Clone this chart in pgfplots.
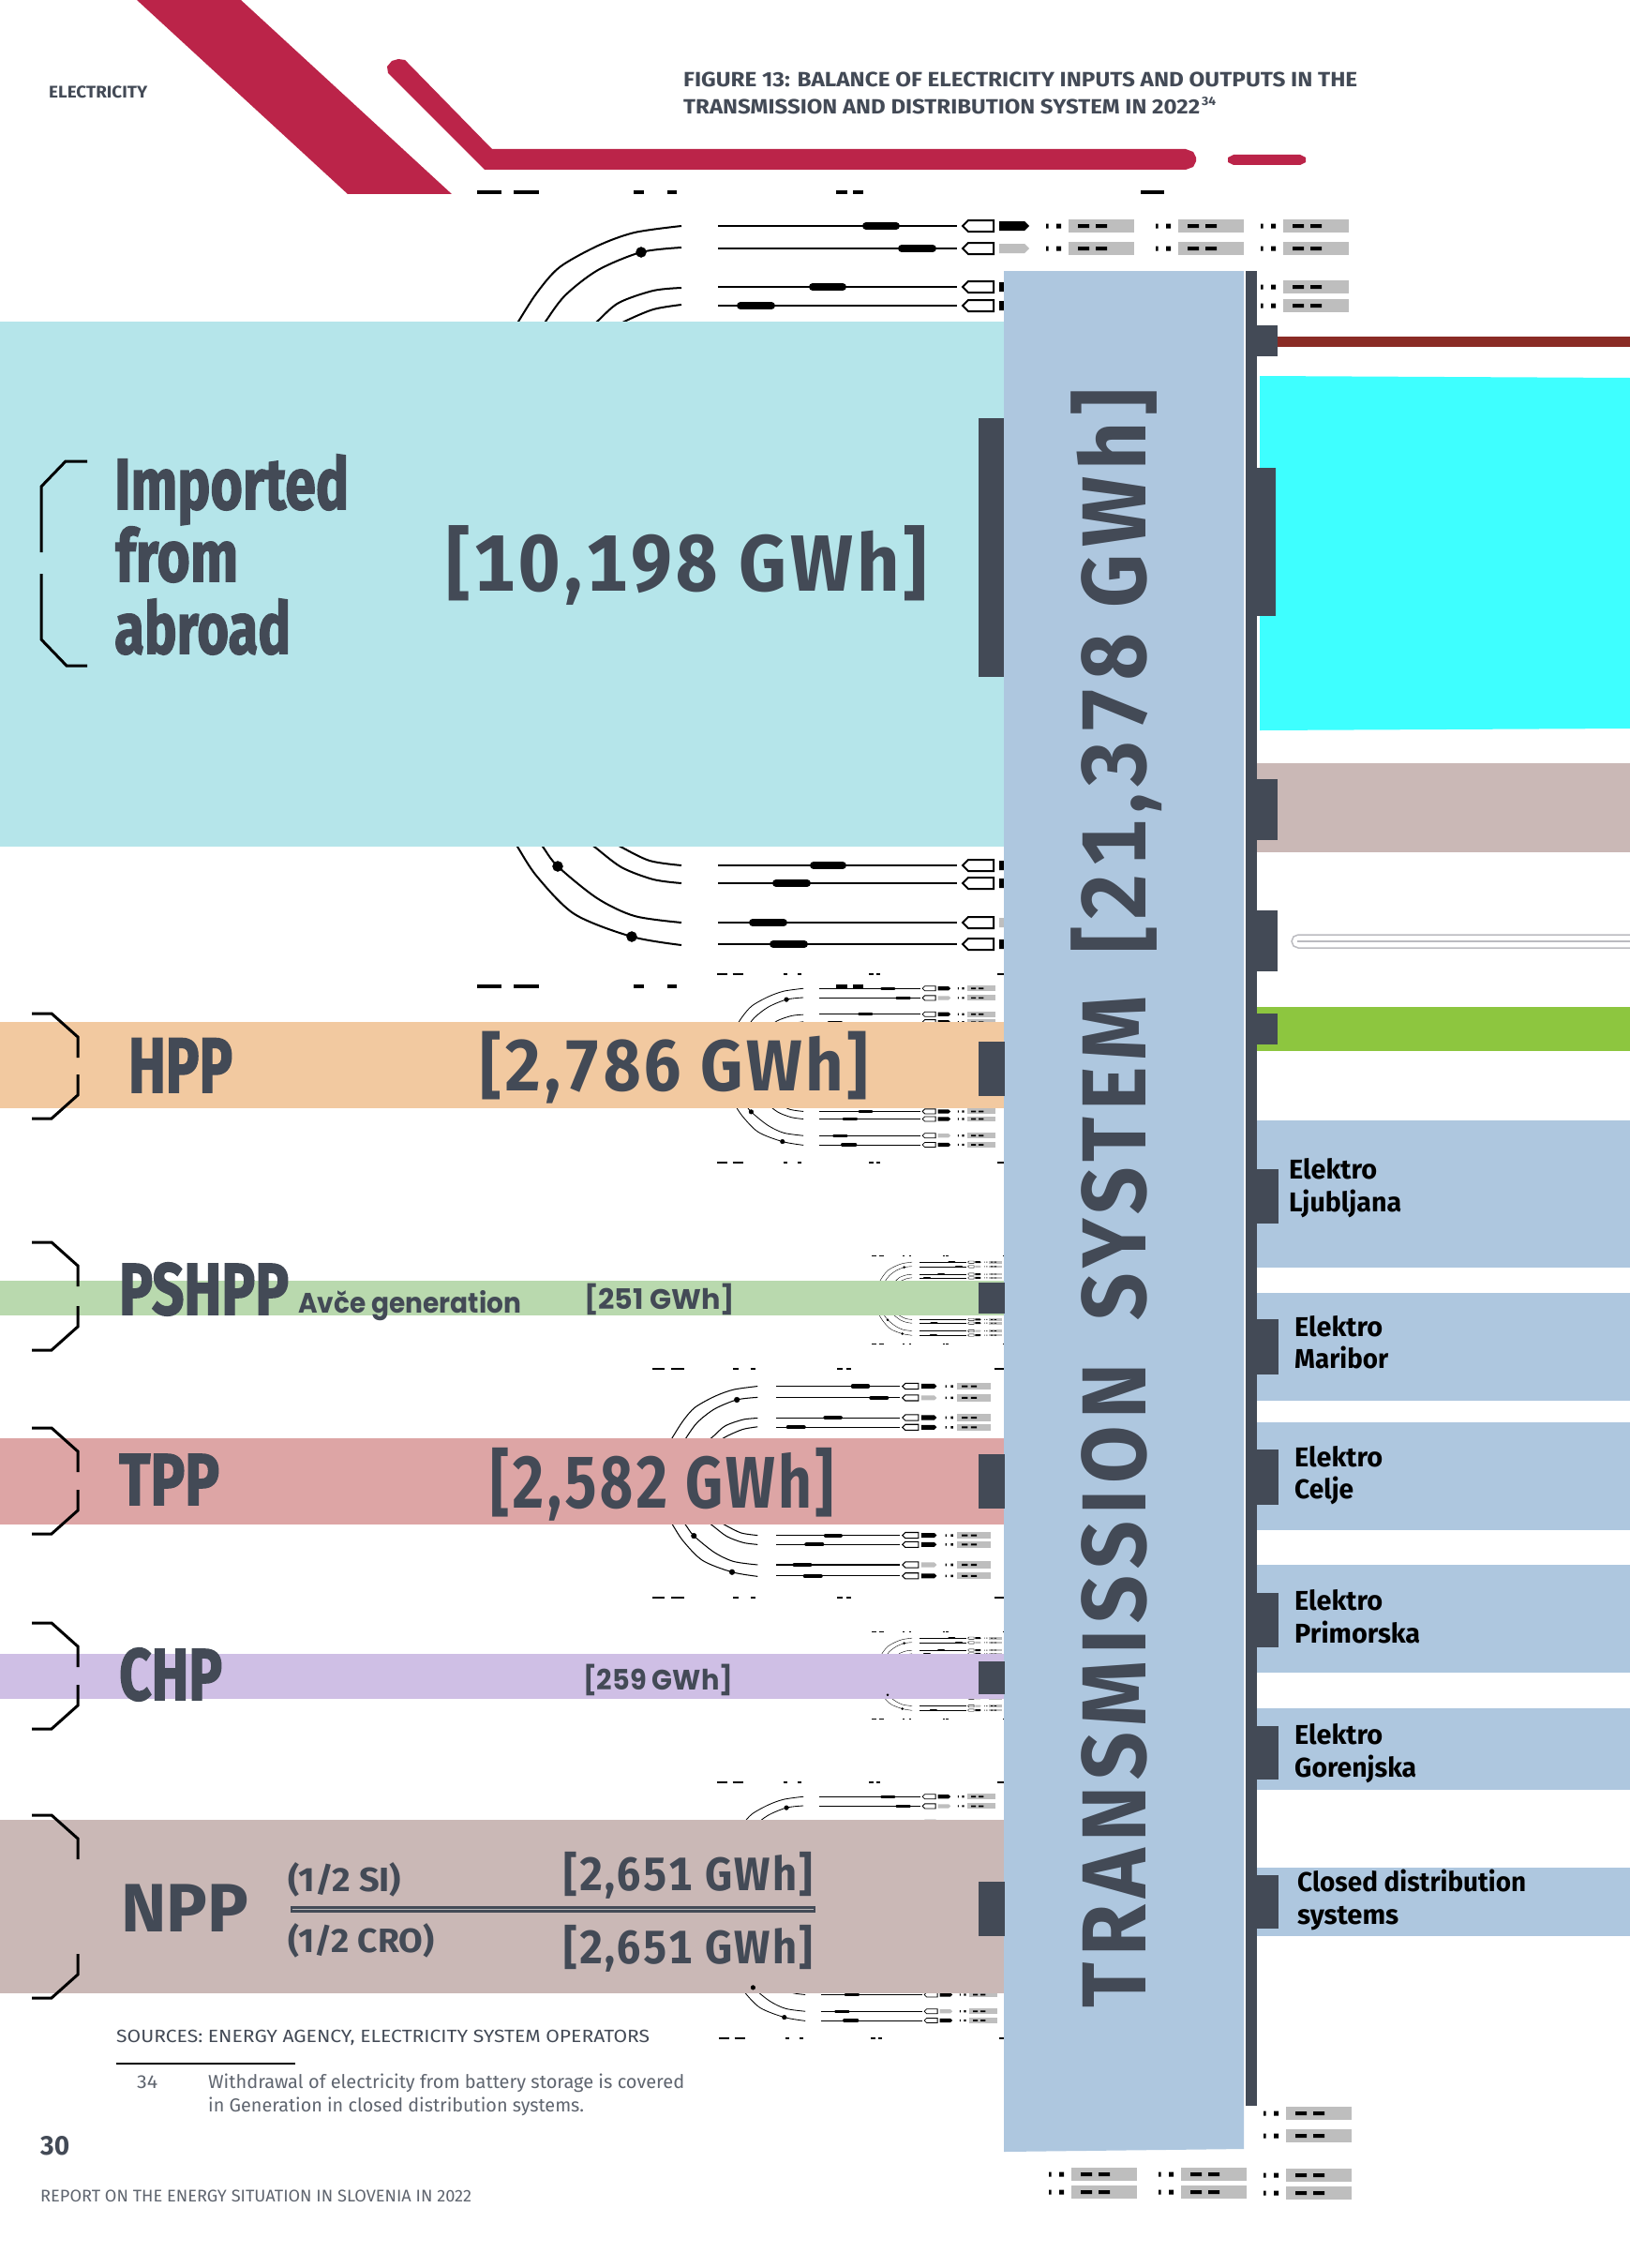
\documentclass[border=0pt]{standalone}
\usepackage{fontspec}
\usepackage{graphicx}
\usepackage{pgfplots}
\usepackage{pgfplotstable}
\pgfplotsset{compat=1.18}
\setmainfont{Fira Sans}
\newfontfamily\pop{Poppins}
\newfontfamily\heavy{Fira Sans}[BoldFeatures={FakeBold=2}]
\newcommand\val{\bfseries\addfontfeature{LetterSpace=5,Numbers=Monospaced}}
\definecolor{dark}{HTML}{434A56}
\definecolor{crimson}{HTML}{BB2449}
\definecolor{boxgrey}{HTML}{BEBEBE}
\definecolor{tsblue}{HTML}{AEC7DF}
\definecolor{npp}{HTML}{CAB8B6}
\definecolor{imp}{HTML}{B5E5EA}
\definecolor{hpp}{HTML}{F2C9A0}
\definecolor{psh}{HTML}{B9D9AE}
\definecolor{tpp}{HTML}{DDA5A5}
\definecolor{chp}{HTML}{CFBFE5}
\definecolor{brownline}{HTML}{8A2B25}
\definecolor{cyanband}{HTML}{3EFFFF}
\definecolor{gridline}{HTML}{BBBBC0}
\definecolor{greenband}{HTML}{8DC63F}

% motif pieces, in the coordinates of the large copy
\pgfplotstableread[row sep=\\]{x y\\ 509 0\\ 535 0\\ nan nan\\ 548 0\\ 575 0\\ nan nan\\ 676 0\\ 687 0\\ nan nan\\ 712 0\\ 722 0\\ nan nan\\ 892 0\\ 904 0\\ nan nan\\ 910 0\\ 921 0\\ nan nan\\ 1217 0\\ 1242 0\\}\tDash
\pgfplotstableread[row sep=\\]{x y\\ 543 360\\ 553 343\\ 573 312\\ 597 285\\ 638 262\\ 677 248\\ 727 241\\ nan nan\\ 572 360\\ 582 343\\ 603 315\\ 638 288\\ 684 269\\ 727 264\\ nan nan\\ 620 358\\ 637 343\\ 660 323\\ 697 310\\ 727 307\\ nan nan\\ 645 355\\ 666 343\\ 697 330\\ 727 325\\}\tArcT
\pgfplotstableread[row sep=\\]{x y\\ 543 888\\ 552 903\\ 573 935\\ 613 975\\ 674 999\\ 727 1008\\ nan nan\\ 568 888\\ 579 903\\ 595 924\\ 637 958\\ 677 977\\ 727 984\\ nan nan\\ 620 893\\ 634 903\\ 663 925\\ 697 938\\ 727 942\\ nan nan\\ 645 893\\ 662 903\\ 693 918\\ 727 923\\}\tArcB
\pgfplotstableread[row sep=\\]{x y\\ 684 269\\}\tDotT
\pgfplotstableread[row sep=\\]{x y\\ 595 924\\ 674 999\\}\tDotB
\pgfplotstableread[row sep=\\]{x y\\ 924 241\\ 956 241\\ nan nan\\ 962 265\\ 995 265\\ nan nan\\ 867 306\\ 899 306\\ nan nan\\ 790 326\\ 823 326\\}\tCapT
\pgfplotstableread[row sep=\\]{x y\\ 868 923\\ 899 923\\ nan nan\\ 828 942\\ 861 942\\ nan nan\\ 803 984\\ 836 984\\ nan nan\\ 825 1007\\ 858 1007\\}\tCapB
\pgfplotstableread[row sep=\\]{x y\\ 766 0\\ 1021 0\\}\tLine
\pgfplotstableread[row sep=\\]{x y\\ 1027 0\\ 1033 -6\\ 1060 -6\\ 1060 6\\ 1033 6\\}\tPent
\pgfplotstableread[row sep=\\]{x y\\ 1066 -5\\ 1093 -5\\ 1098 0\\ 1093 5\\ 1066 5\\}\tHex
\pgfplotstableread[row sep=\\]{x y\\ 1140 -7\\ 1210 -7\\ 1210 7\\ 1140 7\\}\tBox
\pgfplotstableread[row sep=\\]{x y\\ 1116 -2.5\\ 1118.5 -2.5\\ 1118.5 2.5\\ 1116 2.5\\ nan nan\\ 1127 -2.5\\ 1132 -2.5\\ 1132 2.5\\ 1127 2.5\\ nan nan\\ 1150 -2\\ 1162 -2\\ 1162 2\\ 1150 2\\ nan nan\\ 1169 -2\\ 1181 -2\\ 1181 2\\ 1169 2\\}\tTick
\pgfplotstableread[row sep=\\]{x y\\ 34 0\\ 55 0\\ 83 25\\ 83 47\\}\tBrT
\pgfplotstableread[row sep=\\]{x y\\ 83 -47\\ 83 -25\\ 55 0\\ 34 0\\}\tBrB

\newcommand\rect[5]{\addplot[fill=#5,draw=none] coordinates {(#1,#2)(#3,#2)(#3,#4)(#1,#4)} --cycle;}
\newcommand\poly[2]{\addplot[fill=#1,draw=none] coordinates {#2} --cycle;}
% x y width size colour text: baseline left corner, exact width
\newcommand\tx[6]{\node[anchor=base west,inner sep=0pt,text=#5] at (axis cs:#1,#2) {\resizebox{#3pt}{\height}{\fontsize{#4pt}{#4pt}\selectfont #6}};}
\newcommand\tsword[3]{\node[rotate=90,anchor=base west,inner sep=0pt,text=dark] at (axis cs:1222,#1) {\resizebox{#2pt}{\height}{\fontsize{97pt}{97pt}\selectfont\bfseries\addfontfeature{LetterSpace=8,Numbers=Monospaced}#3}};}
\newcommand\bcol[4]{%
  \addplot[fill=boxgrey,draw=none] table[x expr=#1+#3*\thisrow{x},y expr=#2+#3*(#4+\thisrow{y})]{\tBox} --cycle;
  \addplot[fill=black,draw=none] table[x expr=#1+#3*\thisrow{x},y expr=#2+#3*(#4+\thisrow{y})]{\tTick};}
\newcommand\hrow[5]{%
  \addplot[black,line width=#3*2pt] table[x expr=#1+#3*\thisrow{x},y expr=#2+#3*(#4+\thisrow{y})]{\tLine};
  \addplot[fill=white,draw=black,line width=#3*2pt] table[x expr=#1+#3*\thisrow{x},y expr=#2+#3*(#4+\thisrow{y})]{\tPent} --cycle;
  \addplot[fill=#5,draw=none] table[x expr=#1+#3*\thisrow{x},y expr=#2+#3*(#4+\thisrow{y})]{\tHex} --cycle;
  \bcol{#1}{#2}{#3}{#4}}
\newcommand\parts[6]{% ox oy s arcs dots caps
  \addplot[black,line width=#3*2pt,smooth] table[x expr=#1+#3*\thisrow{x},y expr=#2+#3*\thisrow{y}]{#4};
  \addplot[only marks,mark=*,mark size=#3*5.5pt,black] table[x expr=#1+#3*\thisrow{x},y expr=#2+#3*\thisrow{y}]{#5};
  \addplot[black,line width=#3*8pt,line cap=round] table[x expr=#1+#3*\thisrow{x},y expr=#2+#3*\thisrow{y}]{#6};}
\newcommand\motifT[3]{% x of the first dash, y of the dash row, scale
  \addplot[black,line width=#3*4pt] table[x expr=#1+#3*(\thisrow{x}-509),y expr=#2+\thisrow{y}]{\tDash};
  \hrow{(#1-#3*509)}{(#2-#3*205)}{#3}{241}{black}
  \hrow{(#1-#3*509)}{(#2-#3*205)}{#3}{265}{boxgrey}
  \hrow{(#1-#3*509)}{(#2-#3*205)}{#3}{306}{black}
  \hrow{(#1-#3*509)}{(#2-#3*205)}{#3}{326}{black}
  \parts{(#1-#3*509)}{(#2-#3*205)}{#3}{\tArcT}{\tDotT}{\tCapT}}
\newcommand\motifB[3]{%
  \addplot[black,line width=#3*4pt] table[x expr=#1+#3*(\thisrow{x}-509),y expr=#2+\thisrow{y}]{\tDash};
  \hrow{(#1-#3*509)}{(#2-#3*1052)}{#3}{923}{black}
  \hrow{(#1-#3*509)}{(#2-#3*1052)}{#3}{942}{black}
  \hrow{(#1-#3*509)}{(#2-#3*1052)}{#3}{984}{boxgrey}
  \hrow{(#1-#3*509)}{(#2-#3*1052)}{#3}{1007}{black}
  \parts{(#1-#3*509)}{(#2-#3*1052)}{#3}{\tArcB}{\tDotB}{\tCapB}}
\newcommand\brk[2]{\addplot[black,line width=3pt] table[x=x,y expr=#1+\thisrow{y}]{\tBrT};
  \addplot[black,line width=3pt] table[x=x,y expr=#2+\thisrow{y}]{\tBrB};}

\begin{document}
\begin{tikzpicture}
\begin{axis}[x=1pt,y=1pt,y dir=reverse,xmin=0,xmax=1739,ymin=0,ymax=2419,
  axis lines=none,unbounded coords=jump,clip=true]
\rect{0}{0}{1739}{2419}{white}

% repeated switchyard motif, behind the bands
\motifT{509}{205}{1}
\motifB{509}{1052}{1}
\bcol{117}{0}{1}{241}\bcol{117}{0}{1}{265}
\bcol{229}{0}{1}{241}\bcol{229}{0}{1}{265}\bcol{229}{0}{1}{306}\bcol{229}{0}{1}{326}
\motifT{765}{1039}{0.423}
\motifB{765}{1240}{0.423}
\motifT{930}{1339}{0.198}
\motifB{930}{1433}{0.198}
\motifT{696}{1460}{0.515}
\motifB{696}{1704}{0.515}
\motifT{930}{1740}{0.198}
\motifB{930}{1833}{0.198}
\motifT{765}{1901}{0.423}
\motifB{767}{2174}{0.423}
\bcol{232}{2013}{1}{241}\bcol{232}{2013}{1}{265}
\bcol{3}{0}{1}{2319}\bcol{3}{0}{1}{2338}
\bcol{120}{0}{1}{2319}\bcol{120}{0}{1}{2338}
\bcol{232}{0}{1}{2320}\bcol{232}{0}{1}{2339}

% header shapes
\poly{crimson}{(146,0)(257,0)(482,207)(371,207)}
\poly{crimson}{(418,65)(425,63)(432,64)(435,67)(525,159)(1265,159)(1273,162)(1276,168)(1276,172)(1273,178)(1265,181)(517,181)(414,78)(413,71)}
\poly{crimson}{(1316,165)(1387,165)(1393,168)(1393,173)(1387,176)(1316,176)(1310,173)(1310,168)}

% input bands
\rect{0}{343}{1071}{903}{imp}
\rect{0}{1090}{1071}{1182}{hpp}
\rect{0}{1366}{1071}{1403}{psh}
\rect{0}{1534}{1071}{1626}{tpp}
\rect{0}{1764}{1071}{1812}{chp}
\rect{0}{1941}{1071}{2126}{npp}

% central bar and spine
\poly{tsblue}{(1071,289)(1327,289)(1327,2292)(1071,2295)}
\rect{1329}{289}{1341}{2246}{dark}
\rect{1044}{446}{1071}{722}{dark}
\rect{1044}{1111}{1072}{1169}{dark}
\rect{1044}{1368}{1072}{1401}{dark}
\rect{1044}{1551}{1072}{1609}{dark}
\rect{1044}{1772}{1072}{1807}{dark}
\rect{1044}{2007}{1072}{2065}{dark}

% output bands
\rect{1363}{359}{1739}{370}{brownline}
\poly{cyanband}{(1344,401)(1739,403)(1739,777)(1344,779)}
\rect{1341}{814}{1739}{909}{npp}
\addplot[draw=gridline,line width=1.5pt] coordinates {(1739,997)(1385,997)(1380,999)(1378,1004)(1380,1009)(1385,1011)(1739,1011)};
\addplot[draw=gridline,line width=2.5pt] coordinates {(1384,1004)(1739,1004)};
\rect{1341}{1074}{1739}{1121}{greenband}
\rect{1341}{1195}{1739}{1352}{tsblue}
\rect{1341}{1379}{1739}{1494}{tsblue}
\rect{1341}{1517}{1739}{1632}{tsblue}
\rect{1341}{1669}{1739}{1784}{tsblue}
\rect{1341}{1822}{1739}{1909}{tsblue}
\rect{1341}{1992}{1739}{2065}{tsblue}

\rect{1341}{347}{1363}{380}{dark}
\rect{1341}{499}{1361}{657}{dark}
\rect{1341}{831}{1363}{896}{dark}
\rect{1341}{971}{1363}{1036}{dark}
\rect{1341}{1081}{1363}{1114}{dark}
\rect{1341}{1247}{1364}{1305}{dark}
\rect{1341}{1407}{1364}{1466}{dark}
\rect{1341}{1546}{1364}{1605}{dark}
\rect{1341}{1699}{1364}{1757}{dark}
\rect{1341}{1841}{1364}{1898}{dark}
\rect{1341}{2000}{1364}{2057}{dark}

% brackets
\addplot[black,line width=3pt] coordinates {(93,492)(70,492)(44,519)(44,589)};
\addplot[black,line width=3pt] coordinates {(44,612)(44,682)(71,710)(93,710)};
\brk{1081}{1193}
\brk{1325}{1440}
\brk{1523}{1636}
\brk{1731}{1844}
\brk{1936}{2131}

% NPP divider
\rect{310}{2033}{870}{2040}{dark}
\addplot[draw=gray!55,line width=1.5pt] coordinates {(312,2036.5)(868,2036.5)};

% header text
\tx{52}{105}{105}{18}{dark}{\bfseries ELECTRICITY}
\tx{729}{93}{719}{22}{dark}{\bfseries FIGURE 13: BALANCE OF ELECTRICITY INPUTS AND OUTPUTS IN THE}
\tx{729}{122}{551}{22}{dark}{\bfseries TRANSMISSION AND DISTRIBUTION SYSTEM IN 2022}
\tx{1282}{113}{15}{13}{dark}{\bfseries 34}

% input labels
\tx{122}{543}{250}{77}{dark}{\heavy\bfseries Imported}
\tx{123}{620}{131}{77}{dark}{\heavy\bfseries from}
\tx{122}{697}{188}{77}{dark}{\heavy\bfseries abroad}
\tx{476}{630}{513}{85}{dark}{\val [10,198 GWh]}
\tx{137}{1165}{111}{83}{dark}{\heavy\bfseries HPP}
\tx{512}{1163}{414}{77}{dark}{\val [2,786 GWh]}
\tx{127}{1402}{181}{78}{dark}{\heavy\bfseries PSHPP}
\tx{318}{1400}{238}{30}{dark}{\pop\bfseries Avče generation}
\tx{623}{1396}{161}{30}{dark}{\pop\bfseries [251 GWh]}
\tx{127}{1605}{107}{78}{dark}{\heavy\bfseries TPP}
\tx{523}{1608}{366}{78}{dark}{\val [2,582 GWh]}
\tx{127}{1813}{110}{78}{dark}{\heavy\bfseries CHP}
\tx{622}{1802}{160}{30}{dark}{\pop\bfseries [259 GWh]}
\tx{129}{2060}{136}{73}{dark}{\bfseries NPP}
\tx{307}{2017}{121}{36}{dark}{\bfseries (1/2 SI)}
\tx{307}{2082}{156}{36}{dark}{\bfseries (1/2 CRO)}
\tx{601}{2016}{266}{50}{dark}{\val [2,651 GWh]}
\tx{601}{2094}{266}{50}{dark}{\val [2,651 GWh]}

% central label, word by word
\tsword{2142}{687}{TRANSMISSION}
\tsword{1409}{347}{SYSTEM}
\tsword{1017}{602}{[21,378 GWh]}

% output labels
\tx{1375}{1257}{94}{29}{black}{\bfseries Elektro}
\tx{1375}{1292}{120}{29}{black}{\bfseries Ljubljana}
\tx{1381}{1425}{94}{29}{black}{\bfseries Elektro}
\tx{1381}{1459}{100}{29}{black}{\bfseries Maribor}
\tx{1381}{1564}{94}{29}{black}{\bfseries Elektro}
\tx{1381}{1598}{63}{29}{black}{\bfseries Celje}
\tx{1381}{1717}{94}{29}{black}{\bfseries Elektro}
\tx{1381}{1752}{134}{29}{black}{\bfseries Primorska}
\tx{1381}{1860}{94}{29}{black}{\bfseries Elektro}
\tx{1381}{1895}{130}{29}{black}{\bfseries Gorenjska}
\tx{1384}{2017}{244}{29}{black}{\bfseries Closed distribution}
\tx{1384}{2052}{108}{29}{black}{\bfseries systems}

% foot of the page
\tx{124}{2178}{569}{19}{dark}{SOURCES: ENERGY AGENCY, ELECTRICITY SYSTEM OPERATORS}
\addplot[black,line width=2.5pt] coordinates {(124,2201)(315,2201)};
\tx{146}{2227}{22}{20}{dark!85}{34}
\tx{222}{2227}{508}{20}{dark!85}{Withdrawal of electricity from battery storage is covered}
\tx{222}{2252}{401}{20}{dark!85}{in Generation in closed distribution systems.}
\tx{43}{2298}{31}{29}{dark}{\bfseries 30}
\tx{43}{2348}{460}{18}{dark!85}{REPORT ON THE ENERGY SITUATION IN SLOVENIA IN 2022}
\end{axis}
\end{tikzpicture}
\end{document}
